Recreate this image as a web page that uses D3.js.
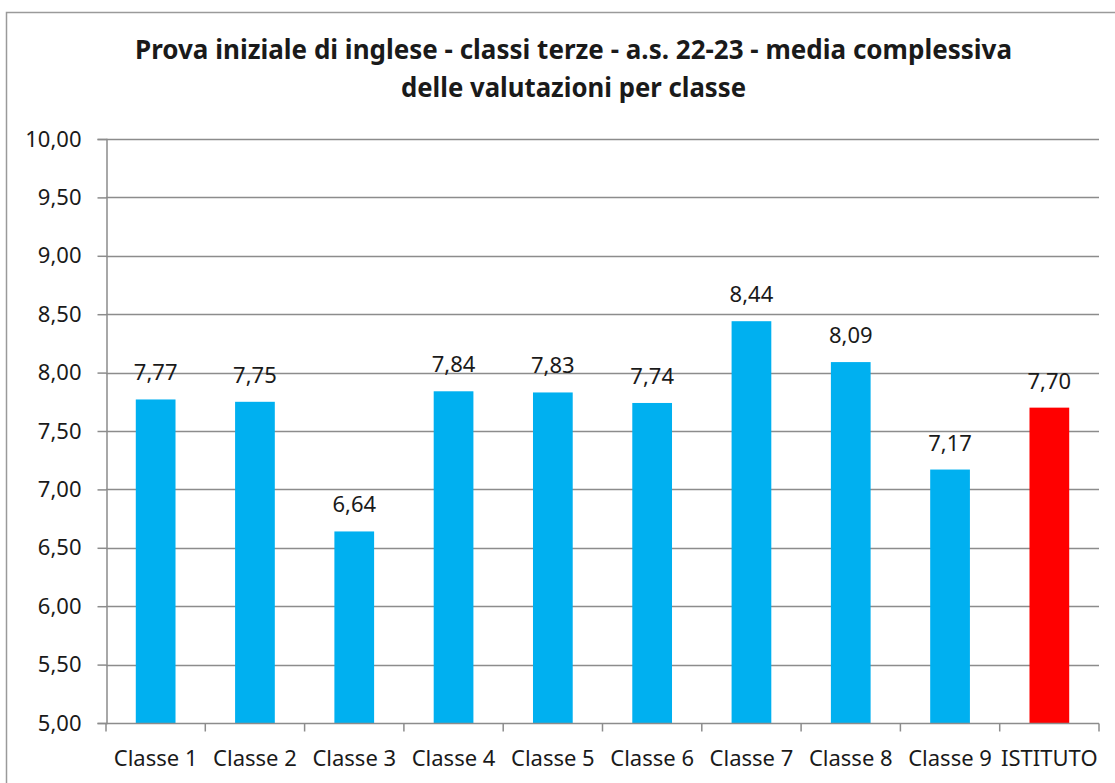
<!DOCTYPE html>
<html>
<head>
<meta charset="utf-8">
<script src="https://cdn.jsdelivr.net/npm/d3@7"></script>
<style>
  html, body { margin: 0; padding: 0; background: #fff; }
  svg { display: block; }
  text { font-family: "Noto Sans", "Open Sans", sans-serif; fill: #1a1a1a; }
</style>
</head>
<body>
<svg id="chart" width="1115" height="783"></svg>
<script>
// Mean grade per class, English entry test, third-year classes 2022-23
const categories = ["Classe 1", "Classe 2", "Classe 3", "Classe 4", "Classe 5",
                    "Classe 6", "Classe 7", "Classe 8", "Classe 9", "ISTITUTO"];
const values = [7.77, 7.75, 6.64, 7.84, 7.83, 7.74, 8.44, 8.09, 7.17, 7.70];
const yTicks = [5.0, 5.5, 6.0, 6.5, 7.0, 7.5, 8.0, 8.5, 9.0, 9.5, 10.0];
const titleLines = ["Prova iniziale di inglese - classi terze - a.s. 22-23 - media complessiva",
                    "delle valutazioni per classe"];

const svg = d3.select("#chart");
const W = 1115, H = 783;
const plot = { left: 106, right: 1099, top: 139, bottom: 723 };
const gridColor = "#8c8c8c";
const fmt = v => d3.format(".2f")(v).replace(".", ",");

// chart area frame
svg.append("rect")
  .attr("x", 6.5).attr("y", 12.5)
  .attr("width", 1134).attr("height", 800)
  .attr("fill", "#fff")
  .attr("stroke", "#9a9a9a").attr("stroke-width", 1.5);

// title
const titleY = [59, 97];
const titleW = [877, 345];
svg.append("g").selectAll("text").data(titleLines).join("text")
  .attr("x", 573.5)
  .attr("y", (d, i) => titleY[i])
  .attr("text-anchor", "middle")
  .attr("font-size", 27)
  .attr("font-weight", "bold")
  .attr("textLength", (d, i) => titleW[i])
  .attr("lengthAdjust", "spacingAndGlyphs")
  .text(d => d);

const x = d3.scaleBand()
  .domain(categories)
  .range([plot.left, plot.right])
  .paddingInner(0.6)
  .paddingOuter(0.3);

const y = d3.scaleLinear()
  .domain([5, 10])
  .range([plot.bottom, plot.top]);

// horizontal gridlines
svg.append("g").selectAll("line").data(yTicks.filter(t => t > 5)).join("line")
  .attr("x1", plot.left).attr("x2", plot.right)
  .attr("y1", d => Math.round(y(d)) + 0.5).attr("y2", d => Math.round(y(d)) + 0.5)
  .attr("stroke", gridColor).attr("stroke-width", 1.5);

// bars
svg.append("g").selectAll("rect").data(values).join("rect")
  .attr("x", (d, i) => x(categories[i]))
  .attr("width", x.bandwidth())
  .attr("y", d => y(d))
  .attr("height", d => y(5) - y(d))
  .attr("fill", (d, i) => categories[i] === "ISTITUTO" ? "#ff0000" : "#00b0f0");

// value labels
svg.append("g").selectAll("text").data(values).join("text")
  .attr("x", (d, i) => x(categories[i]) + x.bandwidth() / 2)
  .attr("y", d => y(d) - 19)
  .attr("text-anchor", "middle")
  .attr("font-size", 22)
  .text(d => fmt(d));

// y axis
const yAxis = d3.axisLeft(y)
  .tickValues(yTicks)
  .tickSize(9)
  .tickPadding(16)
  .tickFormat(fmt);
const gy = svg.append("g")
  .attr("transform", `translate(${plot.left + 0.5},0)`)
  .call(yAxis);
gy.select(".domain").attr("stroke", gridColor).attr("stroke-width", 1.5);
gy.selectAll(".tick line").attr("stroke", gridColor).attr("stroke-width", 1.5);
gy.selectAll(".tick text")
  .attr("font-size", 22)
  .attr("font-family", "Noto Sans, Open Sans, sans-serif")
  .attr("fill", "#1a1a1a");

// x axis with tick marks at category boundaries
const gx = svg.append("g")
  .attr("transform", `translate(0,${plot.bottom + 0.5})`);
gx.append("line")
  .attr("x1", plot.left).attr("x2", plot.right)
  .attr("stroke", gridColor).attr("stroke-width", 1.5);
const boundaries = categories.map(c => x(c) - x.step() * x.paddingInner() / 2)
  .concat([plot.right]);
boundaries[0] = plot.left;
gx.selectAll("line.b").data(boundaries).join("line")
  .attr("class", "b")
  .attr("x1", d => d).attr("x2", d => d)
  .attr("y1", 0).attr("y2", 8)
  .attr("stroke", gridColor).attr("stroke-width", 1.5);
gx.selectAll("text").data(categories).join("text")
  .attr("x", d => x(d) + x.bandwidth() / 2)
  .attr("y", 765 - plot.bottom)
  .attr("text-anchor", "middle")
  .attr("font-size", 22)
  .text(d => d);
</script>
</body>
</html>
